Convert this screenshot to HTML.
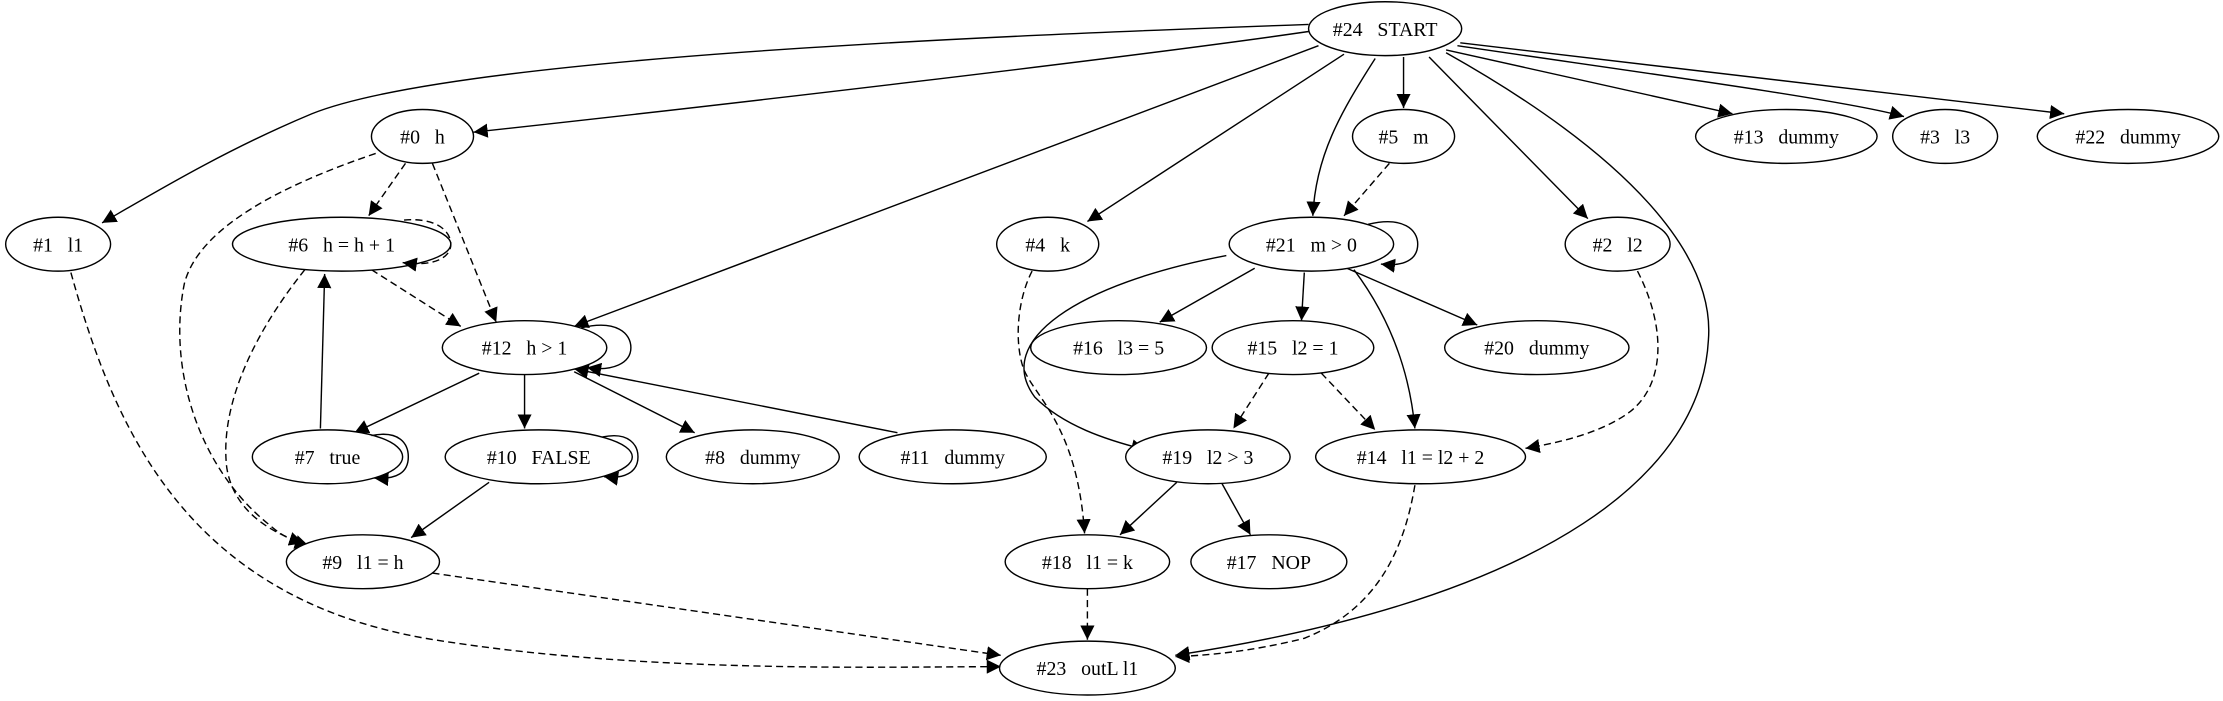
<!DOCTYPE html>
<html><head><meta charset="utf-8"><style>
html,body{margin:0;padding:0;background:#fff;}
svg{display:block;}
text{font-family:"Liberation Serif",serif;font-size:14px;fill:#000;white-space:pre;}
</style></head><body>
<svg width="2223" height="701" viewBox="0 0 1568 494" xmlns="http://www.w3.org/2000/svg">
<defs><marker id="a" viewBox="0 0 10 10" refX="10" refY="5" markerWidth="10" markerHeight="10" markerUnits="userSpaceOnUse" orient="auto"><path d="M0,0 L10,5 L0,10 z" fill="#000"/></marker></defs>
<g fill="none" stroke="#000" stroke-width="1" marker-end="url(#a)">
<path d="M923,22 C800,40 500,75 334,93"/>
<path d="M923,17 C700,25 320,40 220,80 C160,105 110,135 72,157"/>
<path d="M930,32 L405,230"/>
<path d="M948,38 L767,156"/>
<path d="M970,41 C945,80 928,110 926,152"/>
<path d="M990,40 L990,76"/>
<path d="M1008,40 L1120,154"/>
<path d="M1020,37 C1150,110 1210,180 1205,240 C1200,330 1100,420 829,462"/>
<path d="M1020,35 L1222,80"/>
<path d="M1028,32 C1150,50 1300,70 1343,82"/>
<path d="M1030,30 L1456,80"/>
<path d="M226,302 L229,193"/>
<path d="M338,263 L250,305"/>
<path d="M370,264 L370,302"/>
<path d="M405,262 L490,305"/>
<path d="M633,305 L405,260"/>
<path d="M345,340 L290,379"/>
<path d="M865,180 C760,200 700,240 730,280 C750,300 780,310 808,317"/>
<path d="M885,189 L818,227"/>
<path d="M920,192 L918,226"/>
<path d="M950,189 L1042,229"/>
<path d="M955,190 C985,230 995,270 998,302"/>
<path d="M830,340 L790,377"/>
<path d="M862,341 L882,377"/>
</g>
<g fill="none" stroke="#000" stroke-width="1" stroke-dasharray="5,3" marker-end="url(#a)">
<path d="M286,115 L260,152"/>
<path d="M305,115 L350,227"/>
<path d="M265,108 C200,130 140,160 130,200 C118,260 140,330 190,370 C198,377 205,381 218,385"/>
<path d="M262,190 L325,230"/>
<path d="M215,190 C175,240 155,290 160,330 C165,360 190,375 214,383"/>
<path d="M50,192 C80,300 130,420 300,450 C450,475 620,470 706,470"/>
<path d="M305,404 L706,462"/>
<path d="M728,191 C718,210 715,240 722,260 C730,280 760,300 765,376"/>
<path d="M980,115 L948,152"/>
<path d="M1155,191 C1175,230 1175,270 1150,290 C1130,305 1100,312 1076,316"/>
<path d="M895,263 L870,302"/>
<path d="M932,263 L970,303"/>
<path d="M767,415 L767,451"/>
<path d="M998,342 C990,390 970,430 920,450 C880,460 850,462 829,463"/>
</g>
<g fill="#fff" stroke="#000" stroke-width="1">
<ellipse cx="977" cy="20" rx="54" ry="19"/>
<ellipse cx="298" cy="96" rx="36" ry="19"/>
<ellipse cx="41" cy="172" rx="37" ry="19"/>
<ellipse cx="241" cy="172" rx="77" ry="19"/>
<ellipse cx="370" cy="245" rx="58" ry="19"/>
<ellipse cx="231" cy="322" rx="53" ry="19"/>
<ellipse cx="380" cy="322" rx="66" ry="19"/>
<ellipse cx="531" cy="322" rx="61" ry="19"/>
<ellipse cx="672" cy="322" rx="66" ry="19"/>
<ellipse cx="256" cy="396" rx="54" ry="19"/>
<ellipse cx="739" cy="172" rx="36" ry="19"/>
<ellipse cx="990" cy="96" rx="36" ry="19"/>
<ellipse cx="925" cy="172" rx="58" ry="19"/>
<ellipse cx="1141" cy="172" rx="37" ry="19"/>
<ellipse cx="1260" cy="96" rx="64" ry="19"/>
<ellipse cx="1372" cy="96" rx="37" ry="19"/>
<ellipse cx="1501" cy="96" rx="64" ry="19"/>
<ellipse cx="789" cy="245" rx="62" ry="19"/>
<ellipse cx="912" cy="245" rx="57" ry="19"/>
<ellipse cx="1084" cy="245" rx="65" ry="19"/>
<ellipse cx="852" cy="322" rx="58" ry="19"/>
<ellipse cx="1002" cy="322" rx="74" ry="19"/>
<ellipse cx="767" cy="396" rx="58" ry="19"/>
<ellipse cx="895" cy="396" rx="55" ry="19"/>
<ellipse cx="767" cy="471" rx="62" ry="19"/>
</g>
<g fill="none" stroke="#000" stroke-width="1" marker-end="url(#a)">
<path d="M410,231 C435,225 445,235 445,245 C445,256 432,262 414,259"/>
<path d="M965,158 C990,152 1000,162 1000,172 C1000,183 990,188 974,186"/>
<path d="M262,307 C282,303 288,313 288,322 C288,333 280,338 264,337"/>
<path d="M425,308 C444,304 450,314 450,322 C450,333 440,338 426,336"/>
<path d="M285,155 C308,153 318,163 318,172 C318,182 305,188 284,185" stroke-dasharray="5,3"/>
</g>
<g text-anchor="middle">
<text x="977" y="25">#24   START</text>
<text x="298" y="101">#0   h</text>
<text x="41" y="177">#1   l1</text>
<text x="241" y="177">#6   h = h + 1</text>
<text x="370" y="250">#12   h &gt; 1</text>
<text x="231" y="327">#7   true</text>
<text x="380" y="327">#10   FALSE</text>
<text x="531" y="327">#8   dummy</text>
<text x="672" y="327">#11   dummy</text>
<text x="256" y="401">#9   l1 = h</text>
<text x="739" y="177">#4   k</text>
<text x="990" y="101">#5   m</text>
<text x="925" y="177">#21   m &gt; 0</text>
<text x="1141" y="177">#2   l2</text>
<text x="1260" y="101">#13   dummy</text>
<text x="1372" y="101">#3   l3</text>
<text x="1501" y="101">#22   dummy</text>
<text x="789" y="250">#16   l3 = 5</text>
<text x="912" y="250">#15   l2 = 1</text>
<text x="1084" y="250">#20   dummy</text>
<text x="852" y="327">#19   l2 &gt; 3</text>
<text x="1002" y="327">#14   l1 = l2 + 2</text>
<text x="767" y="401">#18   l1 = k</text>
<text x="895" y="401">#17   NOP</text>
<text x="767" y="476">#23   outL l1</text>
</g>
</svg>
</body></html>
